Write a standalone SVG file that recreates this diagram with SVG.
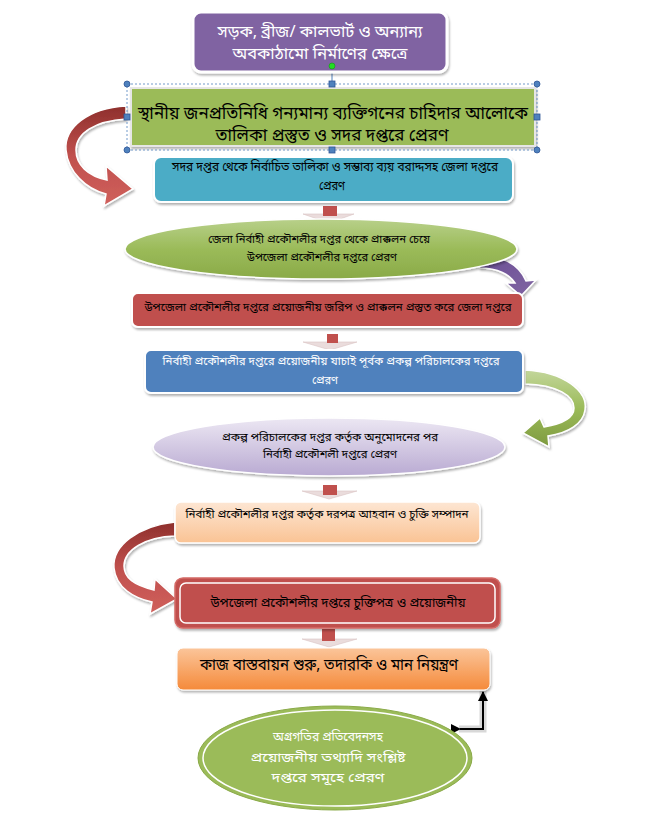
<svg xmlns="http://www.w3.org/2000/svg" width="653" height="814" viewBox="0 0 653 814">
<defs>
<style>
.bn{font-family:"Noto Sans Bengali","Lohit Bengali","FreeSans","Noto Sans",sans-serif;text-anchor:middle;dominant-baseline:central}
.w{fill:#ffffff}
.k{fill:#000000}
.hd{fill:#4F81BD;stroke:#2F5597;stroke-width:0.8}
.sel{fill:none;stroke:#4F81BD;stroke-width:0.8;stroke-dasharray:2,2}
.sq{fill:#C0504D}
.chev{fill:#EADCDC;stroke:#D9C3C3;stroke-width:0.6}
</style>
<filter id="sh" x="-10%" y="-20%" width="120%" height="150%">
<feDropShadow dx="1" dy="2" stdDeviation="1.2" flood-color="#000" flood-opacity="0.3"/>
</filter>
<linearGradient id="gEll" x1="0" y1="0" x2="0" y2="1">
<stop offset="0" stop-color="#B8D08A"/><stop offset="0.5" stop-color="#9BBB59"/><stop offset="1" stop-color="#8AAA48"/>
</linearGradient>
<linearGradient id="gLav" x1="0" y1="0" x2="0" y2="1">
<stop offset="0" stop-color="#ECE7F3"/><stop offset="1" stop-color="#B9AAD2"/>
</linearGradient>
<linearGradient id="gPeach" x1="0" y1="0" x2="0" y2="1">
<stop offset="0" stop-color="#FDE6D3"/><stop offset="1" stop-color="#FAC394"/>
</linearGradient>
<linearGradient id="gOr" x1="0" y1="0" x2="0" y2="1">
<stop offset="0" stop-color="#FBC59A"/><stop offset="1" stop-color="#F58A3A"/>
</linearGradient>
<linearGradient id="gRedA" x1="0" y1="0" x2="0" y2="1">
<stop offset="0" stop-color="#8E2F2C"/><stop offset="0.5" stop-color="#C0504D"/><stop offset="1" stop-color="#D0605C"/>
</linearGradient>
<linearGradient id="gPurA" x1="0" y1="0" x2="1" y2="1">
<stop offset="0" stop-color="#6A4F95"/><stop offset="1" stop-color="#8064A2"/>
</linearGradient>
<linearGradient id="gGrnA" x1="0" y1="0" x2="0" y2="1">
<stop offset="0" stop-color="#C3D69B"/><stop offset="0.5" stop-color="#9BBB59"/><stop offset="1" stop-color="#7E9A3F"/>
</linearGradient>
<marker id="blk" viewBox="0 0 10 10" refX="9" refY="5" markerWidth="5" markerHeight="5" orient="auto">
<path d="M0,0 L10,5 L0,10 Z" fill="#000"/>
</marker>
</defs>

<g id="connectors">
<path d="M126,106 C88,108 64,128 66,150 C68,172 86,189 106,194 L104,206 L133,189 L106,166 L107,180 C88,176 76,165 76,150 C76,133 95,121 126,119 Z" fill="url(#gRedA)" stroke="#ffffff" stroke-width="1.5" filter="url(#sh)"/>
<path class="chev" d="M303,214 L329,223 L354,214 Z"/>
<rect class="sq" x="323" y="206" width="14" height="10"/>
<path d="M478,256 C500,254 519,264 526,281 L536,280 L521,296 L506,283 L515,283 C510,275 498,268 480,268 Z" fill="url(#gPurA)" stroke="#ffffff" stroke-width="1.5" filter="url(#sh)"/>
<path class="chev" d="M303,342 L330,350 L357,342 Z"/>
<rect class="sq" x="327" y="334" width="11" height="9"/>
<path d="M525,370 C565,372 588,392 585,410 C583,424 568,433 548,436 L549,447 L523,433 L540,418 L544,427 C562,424 574,418 574,408 C574,396 558,385 525,384 Z" fill="url(#gGrnA)" stroke="#ffffff" stroke-width="1.5" filter="url(#sh)"/>
<path class="chev" d="M302,491 L329,499 L357,491 Z"/>
<rect class="sq" x="323" y="485" width="14" height="10"/>
<path d="M175,522 C138,526 112,546 114,568 C116,588 134,598 152,602 L150,614 L177,599 L155,579 L154,590 C134,585 124,578 124,566 C124,550 145,537 175,536 Z" fill="url(#gRedA)" stroke="#ffffff" stroke-width="1.5" filter="url(#sh)"/>
<path class="chev" d="M302,639 L329,647 L357,639 Z"/>
<rect class="sq" x="322" y="629" width="13" height="12"/>
<path d="M459,729 L483,729 L483,691" fill="none" stroke="#D8D8D8" stroke-width="7" stroke-linejoin="miter"/>
<path d="M460,729 L483,729 L483,692" fill="none" stroke="#000" stroke-width="2" marker-start="url(#blk)" marker-end="url(#blk)"/>
<line x1="332" y1="66" x2="332" y2="84" stroke="#4F81BD" stroke-width="1"/>
</g>

<g id="n1">
<rect x="193" y="12" width="254" height="60" rx="8" fill="#8064A2" stroke="#ffffff" stroke-width="3" filter="url(#sh)"/>
<text class="bn w" x="320" y="33" font-size="16" textLength="205" lengthAdjust="spacingAndGlyphs">সড়ক, ব্রীজ/ কালভার্ট ও অন্যান্য</text>
<text class="bn w" x="320" y="55" font-size="16" textLength="175" lengthAdjust="spacingAndGlyphs">অবকাঠামো নির্মাণের ক্ষেত্রে</text>
</g>

<g id="n2">
<rect x="131" y="88" width="404" height="58" fill="#9BBB59" stroke="#E6E6E6" stroke-width="2" filter="url(#sh)"/>
<text class="bn k" x="333" y="114" font-size="17" textLength="390" lengthAdjust="spacingAndGlyphs">স্থানীয় জনপ্রতিনিধি গন্যমান্য ব্যক্তিগনের চাহিদার আলোকে</text>
<text class="bn k" x="332" y="136" font-size="17" textLength="233" lengthAdjust="spacingAndGlyphs">তালিকা প্রস্তুত ও সদর দপ্তরে প্রেরণ</text>
<rect class="sel" x="127" y="84" width="410" height="66"/>
<circle class="hd" cx="127" cy="84" r="3"/>
<circle class="hd" cx="537" cy="84" r="3"/>
<circle class="hd" cx="127" cy="150" r="3"/>
<circle class="hd" cx="537" cy="150" r="3"/>
<rect class="hd" x="329" y="81" width="6" height="6"/>
<rect class="hd" x="329" y="147" width="6" height="6"/>
<rect class="hd" x="124" y="114" width="6" height="6"/>
<rect class="hd" x="534" y="114" width="6" height="6"/>
<circle cx="332" cy="66" r="3" fill="#22DD22" stroke="#119911" stroke-width="0.6"/>
</g>

<g id="n3">
<rect x="154" y="157" width="359" height="45" rx="7" fill="#4BACC6" stroke="#ffffff" stroke-width="2" filter="url(#sh)"/>
<text class="bn k" x="335" y="168" font-size="12" textLength="326" lengthAdjust="spacingAndGlyphs">সদর দপ্তর থেকে নির্বাচিত তালিকা ও সম্ভাব্য ব্যয় বরাদ্দসহ জেলা দপ্তরে</text>
<text class="bn k" x="332" y="187" font-size="12" textLength="26" lengthAdjust="spacingAndGlyphs">প্রেরণ</text>
</g>

<g id="n4">
<ellipse cx="321" cy="249" rx="196" ry="30" fill="url(#gEll)" stroke="#ffffff" stroke-width="1.5" filter="url(#sh)"/>
<text class="bn k" x="319" y="240" font-size="11.5" textLength="222" lengthAdjust="spacingAndGlyphs">জেলা নির্বাহী প্রকৌশলীর দপ্তর থেকে প্রাক্কলন চেয়ে</text>
<text class="bn k" x="322" y="258" font-size="11.5" textLength="150" lengthAdjust="spacingAndGlyphs">উপজেলা প্রকৌশলীর দপ্তরে প্রেরণ</text>
</g>

<g id="n5">
<rect x="132" y="293" width="391" height="34" rx="6" fill="#C0504D" stroke="#ffffff" stroke-width="2" filter="url(#sh)"/>
<text class="bn k" x="328" y="308" font-size="11.5" textLength="367" lengthAdjust="spacingAndGlyphs">উপজেলা প্রকৌশলীর দপ্তরে প্রয়োজনীয় জরিপ ও প্রাক্কলন প্রস্তুত করে জেলা দপ্তরে</text>
</g>

<g id="n6">
<rect x="145" y="350" width="378" height="43" rx="6" fill="#4F81BD" stroke="#ffffff" stroke-width="2" filter="url(#sh)"/>
<text class="bn w" x="331" y="362" font-size="11.8" textLength="337" lengthAdjust="spacingAndGlyphs">নির্বাহী প্রকৌশলীর দপ্তরে প্রয়োজনীয় যাচাই পূর্বক প্রকল্প পরিচালকের দপ্তরে</text>
<text class="bn w" x="325" y="381" font-size="11.8" textLength="26" lengthAdjust="spacingAndGlyphs">প্রেরণ</text>
</g>

<g id="n7">
<ellipse cx="329" cy="447" rx="176" ry="29" fill="url(#gLav)" stroke="#ffffff" stroke-width="1.5" filter="url(#sh)"/>
<text class="bn k" x="330" y="438" font-size="11.5" textLength="216" lengthAdjust="spacingAndGlyphs">প্রকল্প পরিচালকের দপ্তর কর্তৃক অনুমোদনের পর</text>
<text class="bn k" x="330" y="455" font-size="11.5" textLength="134" lengthAdjust="spacingAndGlyphs">নির্বাহী প্রকৌশলী দপ্তরে প্রেরণ</text>
</g>

<g id="n8">
<rect x="175" y="502" width="305" height="41" rx="6" fill="url(#gPeach)" stroke="#ffffff" stroke-width="1.5" filter="url(#sh)"/>
<text class="bn k" x="327" y="515" font-size="11.8" textLength="283" lengthAdjust="spacingAndGlyphs">নির্বাহী প্রকৌশলীর দপ্তর কর্তৃক দরপত্র আহবান ও চুক্তি সম্পাদন</text>
</g>

<g id="n9">
<rect x="175" y="578" width="325" height="50" rx="8" fill="#C0504D" stroke="#D46A66" stroke-width="1.5" filter="url(#sh)"/>
<rect x="180" y="583" width="315" height="40" rx="6" fill="none" stroke="#ffffff" stroke-width="1.5"/>
<text class="bn k" x="338" y="603" font-size="13" textLength="255" lengthAdjust="spacingAndGlyphs">উপজেলা প্রকৌশলীর দপ্তরে চুক্তিপত্র ও প্রয়োজনীয়</text>
</g>

<g id="n10">
<rect x="177" y="648" width="313" height="42" rx="6" fill="url(#gOr)" stroke="#ffffff" stroke-width="1" filter="url(#sh)"/>
<text class="bn k" x="329" y="666" font-size="15.5" textLength="258" lengthAdjust="spacingAndGlyphs">কাজ বাস্তবায়ন শুরু, তদারকি ও মান নিয়ন্ত্রণ</text>
</g>

<g id="n11">
<ellipse cx="335" cy="758" rx="137" ry="52" fill="#9BBB59" stroke="#8AAA48" stroke-width="1"/>
<ellipse cx="335" cy="758" rx="132" ry="48" fill="none" stroke="#ffffff" stroke-width="1.5"/>
<text class="bn w" x="328" y="737" font-size="13" textLength="110" lengthAdjust="spacingAndGlyphs">অগ্রগতির প্রতিবেদনসহ</text>
<text class="bn w" x="328" y="758" font-size="13" textLength="155" lengthAdjust="spacingAndGlyphs">প্রয়োজনীয় তথ্যাদি সংশ্লিষ্ট</text>
<text class="bn w" x="328" y="778" font-size="13" textLength="113" lengthAdjust="spacingAndGlyphs">দপ্তরে সমূহে প্রেরণ</text>
</g>
</svg>
